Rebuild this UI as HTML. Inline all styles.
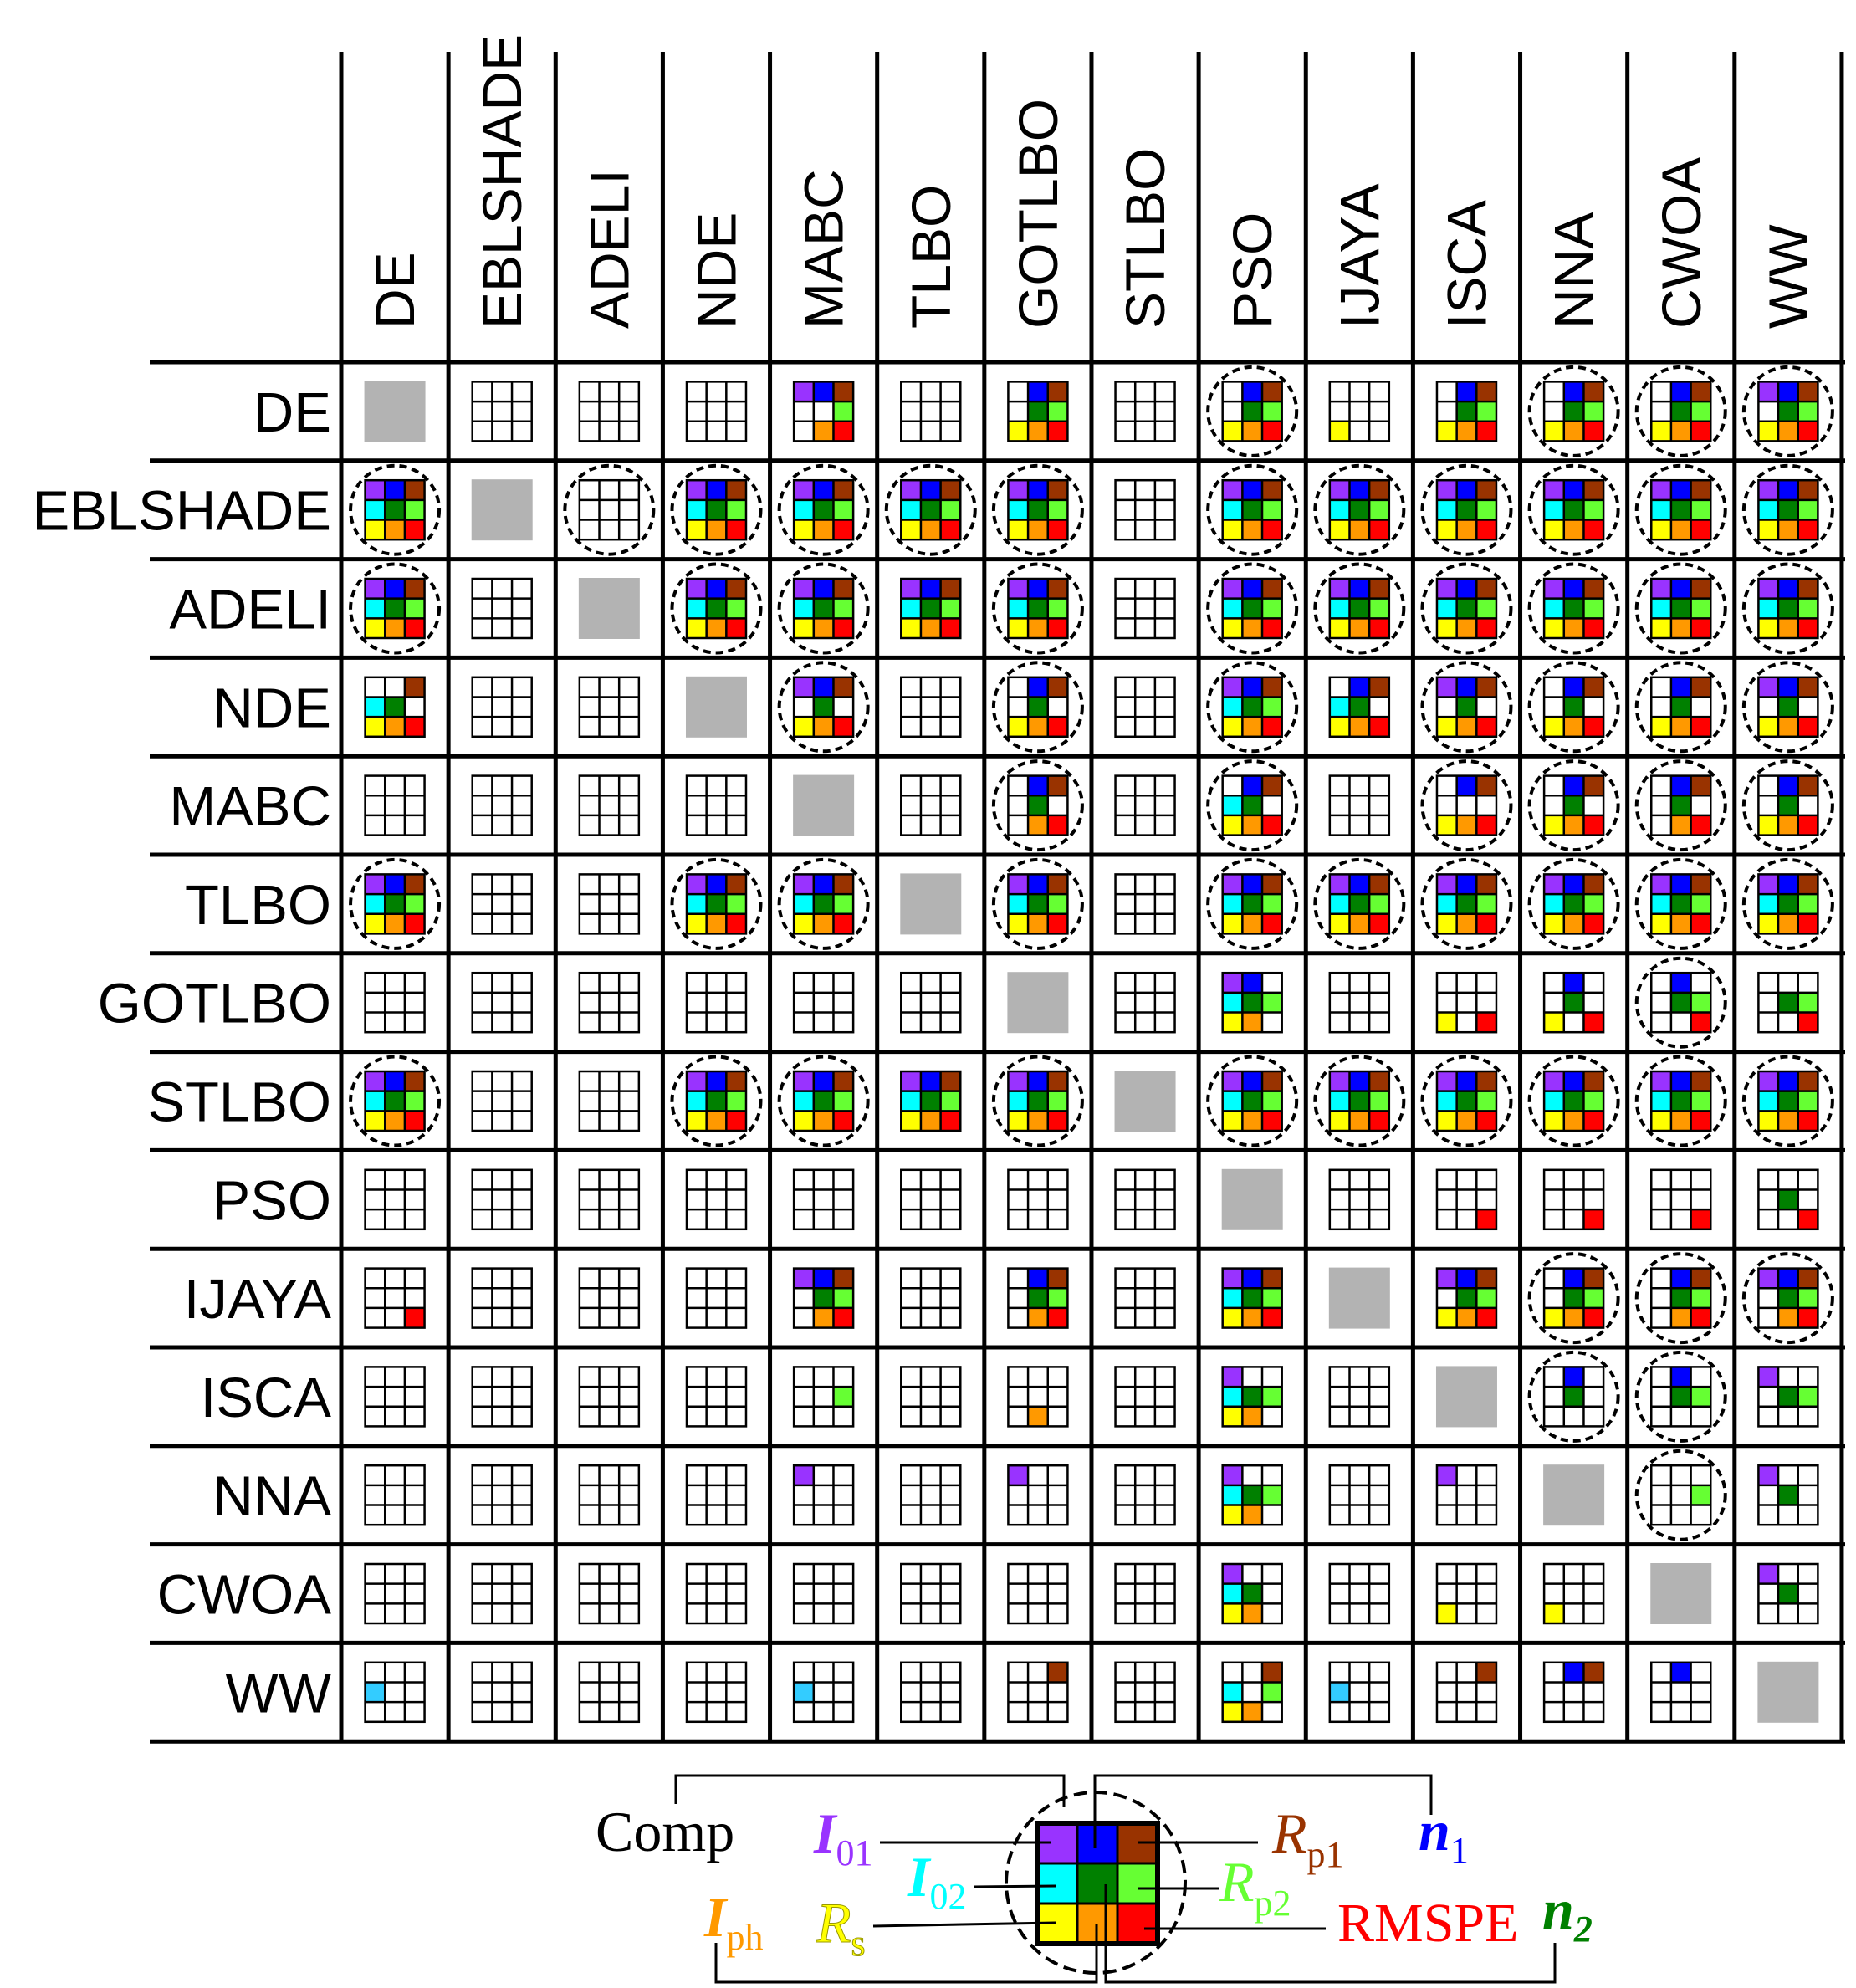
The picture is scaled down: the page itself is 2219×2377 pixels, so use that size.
<!DOCTYPE html>
<html><head><meta charset="utf-8"><style>
html,body{margin:0;padding:0;background:#fff;}
svg{display:block;}
</style></head><body>
<svg id="chart" xmlns="http://www.w3.org/2000/svg" width="2219" height="2377" viewBox="0 0 2219 2377">
<g id="grid-lines"></g>
<g id="headers"></g>
<g id="rowlabels"></g>
<g id="cells"></g>
<g id="legend">
  <ellipse cx="1310" cy="2251" rx="107" ry="108" fill="none" stroke="#000" stroke-width="4" stroke-dasharray="16,8"/>
  <rect x="1241" y="2181" width="47" height="47" fill="#9933ff"/>
  <rect x="1288" y="2181" width="48" height="47" fill="#0000ff"/>
  <rect x="1336" y="2181" width="47" height="47" fill="#993300"/>
  <rect x="1241" y="2228" width="47" height="48" fill="#00ffff"/>
  <rect x="1288" y="2228" width="48" height="48" fill="#008000"/>
  <rect x="1336" y="2228" width="47" height="48" fill="#66ff33"/>
  <rect x="1241" y="2276" width="47" height="47" fill="#ffff00"/>
  <rect x="1288" y="2276" width="48" height="47" fill="#ff9900"/>
  <rect x="1336" y="2276" width="47" height="47" fill="#ff0000"/>
  <g stroke="#000" stroke-width="3" fill="none">
    <line x1="1288" y1="2181" x2="1288" y2="2323"/><line x1="1336" y1="2181" x2="1336" y2="2323"/>
    <line x1="1241" y1="2228" x2="1383" y2="2228"/><line x1="1241" y1="2276" x2="1383" y2="2276"/>
    <rect x="1240" y="2180" width="144" height="144" stroke-width="6"/>
  </g>
  <g stroke="#000" stroke-width="3" fill="none">
    <polyline points="808,2157 808,2123 1272,2123 1272,2160"/>
    <polyline points="1309,2210 1309,2123 1711,2123 1711,2170"/>
    <polyline points="856,2323 856,2370 1311,2370 1311,2300"/>
    <polyline points="1322,2253 1322,2370 1859,2370 1859,2323"/>
    <line x1="1052" y1="2203" x2="1256" y2="2203"/>
    <line x1="1360" y1="2203" x2="1504" y2="2203"/>
    <line x1="1164" y1="2256" x2="1262" y2="2255"/>
    <line x1="1360" y1="2258" x2="1458" y2="2258"/>
    <line x1="1044" y1="2303" x2="1262" y2="2299"/>
    <line x1="1368" y1="2306" x2="1585" y2="2306"/>
  </g>
  <g font-family="'Liberation Serif', serif">
    <text x="712" y="2213" font-size="68" fill="#000">Comp</text>
    <text x="973" y="2215" font-size="68" fill="#9933ff" font-style="italic" font-weight="bold">I<tspan font-style="normal" font-weight="normal" font-size="44" dy="15">01</tspan></text>
    <text x="1085" y="2267" font-size="68" fill="#00ffff" font-style="italic" font-weight="bold">I<tspan font-style="normal" font-weight="normal" font-size="44" dy="15">02</tspan></text>
    <text x="842" y="2315" font-size="68" fill="#ff9900" font-style="italic" font-weight="bold">I<tspan font-style="normal" font-weight="normal" font-size="44" dy="16">ph</tspan></text>
    <text x="976" y="2322" font-size="68" fill="#ffff00" stroke="#999900" stroke-width="1" font-style="italic">R<tspan font-style="normal" font-size="44" dy="16">s</tspan></text>
    <text x="1521" y="2215" font-size="68" fill="#993300" font-style="italic">R<tspan font-style="normal" font-size="44" dy="17">p1</tspan></text>
    <text x="1458" y="2273" font-size="68" fill="#66ff33" font-style="italic">R<tspan font-style="normal" font-size="44" dy="17">p2</tspan></text>
    <text x="1696" y="2212" font-size="68" fill="#0000ff" font-style="italic" font-weight="bold">n<tspan font-size="44" font-weight="normal" font-style="normal" dy="15">1</tspan></text>
    <text x="1844" y="2306" font-size="68" fill="#008000" font-style="italic" font-weight="bold">n<tspan font-size="44" font-weight="bold" dy="15">2</tspan></text>
    <text x="1599" y="2321" font-size="66" fill="#ff0000">RMSPE</text>
  </g>
</g>
</svg>
<script>
const algorithms = ["DE","EBLSHADE","ADELI","NDE","MABC","TLBO","GOTLBO","STLBO","PSO","IJAYA","ISCA","NNA","CWOA","WW"];
// Each cell: 'D' = diagonal, optional 'C' prefix = dashed circle, then 9 flags (1 filled, L = light blue, 0 empty)
const rowDE       = ["D","000000000","000000000","000000000","111001011","000000000","011011111","000000000","C011011111","000000100","011011111","C011011111","C011011111","C111011111"];
const rowEBLSHADE = ["C111111111","D","C000000000","C111111111","C111111111","C111111111","C111111111","000000000","C111111111","C111111111","C111111111","C111111111","C111111111","C111111111"];
const rowADELI    = ["C111111111","000000000","D","C111111111","C111111111","111111111","C111111111","000000000","C111111111","C111111111","C111111111","C111111111","C111111111","C111111111"];
const rowNDE      = ["001110111","000000000","000000000","D","C111010111","000000000","C011010111","000000000","C111111111","011110111","C111010111","C011010111","C011010111","C111010111"];
const rowMABC     = ["000000000","000000000","000000000","000000000","D","000000000","C011010011","000000000","C011110111","000000000","C011000111","C011010111","C011010011","C011010111"];
const rowTLBO     = ["C111111111","000000000","000000000","C111111111","C111111111","D","C111111111","000000000","C111111111","C111111111","C111111111","C111111111","C111111111","C111111111"];
const rowGOTLBO   = ["000000000","000000000","000000000","000000000","000000000","000000000","D","000000000","110111110","000000000","000000101","010010101","C010011001","000011001"];
const rowSTLBO    = ["C111111111","000000000","000000000","C111111111","C111111111","111111111","C111111111","D","C111111111","C111111111","C111111111","C111111111","C111111111","C111111111"];
const rowPSO      = ["000000000","000000000","000000000","000000000","000000000","000000000","000000000","000000000","D","000000000","000000001","000000001","000000001","000010001"];
const rowIJAYA    = ["000000001","000000000","000000000","000000000","111011011","000000000","011011011","000000000","111111111","D","111011111","C011011111","C011011011","C111011011"];
const rowISCA     = ["000000000","000000000","000000000","000000000","000001000","000000000","000000010","000000000","100111110","000000000","D","C010010000","C010011000","100011000"];
const rowNNA      = ["000000000","000000000","000000000","000000000","100000000","000000000","100000000","000000000","100111110","000000000","100000000","D","C000001000","100010000"];
const rowCWOA     = ["000000000","000000000","000000000","000000000","000000000","000000000","000000000","000000000","100110110","000000000","000000100","000000100","D","100010000"];
const rowWW       = ["000L00000","000000000","000000000","000000000","000L00000","000000000","001000000","000000000","001101110","000L00000","001000000","011000000","010000000","D"];
const matrix = [rowDE,rowEBLSHADE,rowADELI,rowNDE,rowMABC,rowTLBO,rowGOTLBO,rowSTLBO,rowPSO,rowIJAYA,rowISCA,rowNNA,rowCWOA,rowWW];
const paramColors = ["#9933ff","#0000ff","#993300","#00ffff","#008000","#66ff33","#ffff00","#ff9900","#ff0000"];
const paramNames = ["i01","n1","rp1","i02","n2","rp2","iph","rs","rmspe"];

const NS="http://www.w3.org/2000/svg";
const X0=408, Y0=433, CW=128.14, RH=117.8, N=algorithms.length;
const colX = j => X0 + j*CW;
const rowY = i => Y0 + i*RH;
function mk(tag, attrs, parent){const e=document.createElementNS(NS,tag);for(const k in attrs)e.setAttribute(k,attrs[k]);parent.appendChild(e);return e;}

const gl=document.getElementById('grid-lines');
for(let i=0;i<=N;i++){
  const l=mk('line',{x1:179,x2:2206,y1:rowY(i),y2:rowY(i),stroke:'#000','stroke-width':5},gl);
  
  
}
for(let j=0;j<=N;j++){
  const l=mk('line',{x1:colX(j),x2:colX(j),y1:62,y2:rowY(N)+2,stroke:'#000','stroke-width':5},gl);
  
  
}
const hd=document.getElementById('headers'), rl=document.getElementById('rowlabels');
algorithms.forEach((a,j)=>{
  const cx=colX(j)+CW/2+23;
  const t=mk('text',{x:0,y:0,transform:`translate(${cx},393) rotate(-90)`,'font-family':"'Liberation Sans', sans-serif",'font-size':66,fill:'#000'},hd);
  t.textContent=a;
  
  
});
algorithms.forEach((a,i)=>{
  const t=mk('text',{x:396,y:rowY(i)+RH/2+24,'text-anchor':'end','font-family':"'Liberation Sans', sans-serif",'font-size':67,fill:'#000'},rl);
  t.textContent=a;
  
  
});
const cg=document.getElementById('cells');
matrix.forEach((row,i)=>{
  row.forEach((code,j)=>{
    const cx=colX(j)+CW/2, cy=rowY(i)+RH/2;
    const g=mk('g',{},cg);
    
    
    if(code==='D'){
      const r=mk('rect',{x:cx-36.5,y:cy-36.5,width:73,height:73,fill:'#b3b3b3'},g);
      
      
      return;
    }
    let circ=false, s=code;
    if(s[0]==='C'){circ=true;s=s.slice(1);}
    const S=71, c=S/3, x0=cx-S/2, y0=cy-S/2;
    for(let k=0;k<9;k++){
      const ch=s[k];
      if(ch==='0')continue;
      const r=mk('rect',{x:x0+(k%3)*c,y:y0+Math.floor(k/3)*c,width:c,height:c,fill:ch==='L'?'#33ccff':paramColors[k]},g);
      
      
    }
    const p=[];
    for(let k=1;k<3;k++){p.push(`M${x0+k*c},${y0}V${y0+S}`);p.push(`M${x0},${y0+k*c}H${x0+S}`);}
    mk('path',{d:p.join(''),stroke:'#000','stroke-width':2.5,fill:'none'},g);
    mk('rect',{x:x0,y:y0,width:S,height:S,stroke:'#000','stroke-width':2.5,fill:'none'},g);
    if(circ){
      const e=mk('circle',{cx:cx,cy:cy,r:53,fill:'none',stroke:'#000','stroke-width':4,'stroke-dasharray':'9,6'},g);
      
      
    }
  });
});
</script>
</body></html>
